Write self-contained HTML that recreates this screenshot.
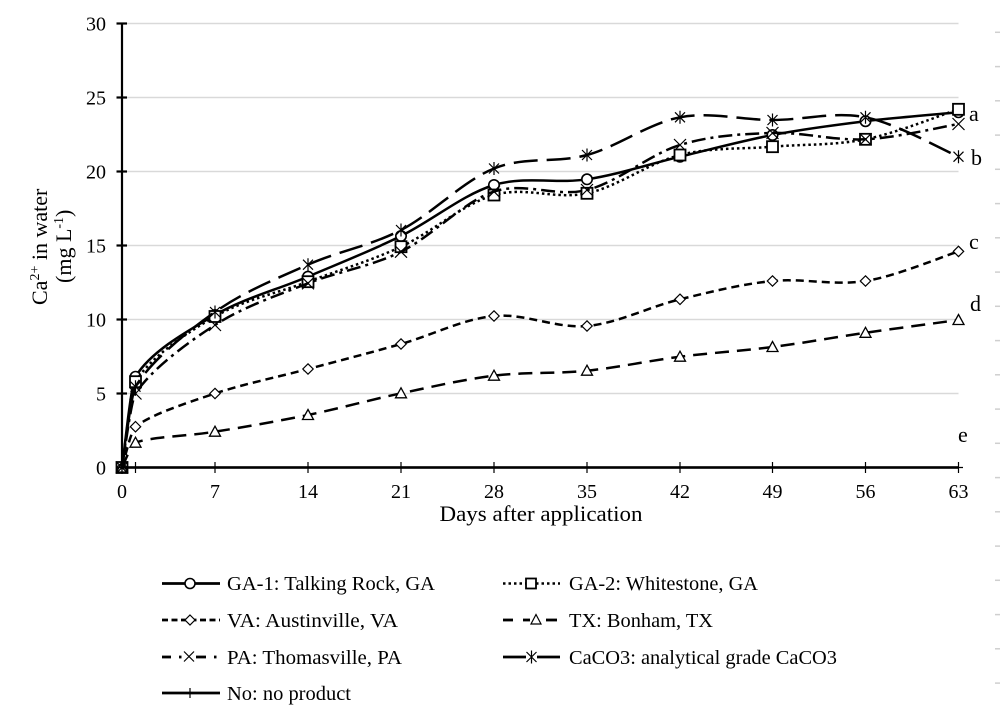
<!DOCTYPE html>
<html>
<head>
<meta charset="utf-8">
<style>
  html,body{margin:0;padding:0;background:#fff;}
  body{width:1000px;height:715px;overflow:hidden;}
  svg{display:block;}
  text{font-family:"Liberation Serif","Times New Roman",serif;fill:#000;}
</style>
</head>
<body>
<svg width="1000" height="715" viewBox="0 0 1000 715" xmlns="http://www.w3.org/2000/svg">
  <defs>
    <marker id="mc" markerUnits="userSpaceOnUse" markerWidth="20" markerHeight="20" refX="10" refY="10" overflow="visible">
      <circle cx="10" cy="10" r="5.2" fill="#fff" stroke="#000" stroke-width="1.6"/>
    </marker>
    <marker id="ms" markerUnits="userSpaceOnUse" markerWidth="20" markerHeight="20" refX="10" refY="10" overflow="visible">
      <rect x="4.5" y="4.5" width="11" height="11" fill="#fff" stroke="#000" stroke-width="1.8"/>
    </marker>
    <marker id="md" markerUnits="userSpaceOnUse" markerWidth="20" markerHeight="20" refX="10" refY="10" overflow="visible">
      <polygon points="10,4.8 15.2,10 10,15.2 4.8,10" fill="#fff" stroke="#000" stroke-width="1.2"/>
    </marker>
    <marker id="mt" markerUnits="userSpaceOnUse" markerWidth="20" markerHeight="20" refX="10" refY="10" overflow="visible">
      <polygon points="10,4.5 15.5,14.5 4.5,14.5" fill="#fff" stroke="#000" stroke-width="1.3"/>
    </marker>
    <marker id="mx" markerUnits="userSpaceOnUse" markerWidth="20" markerHeight="20" refX="10" refY="10" overflow="visible">
      <path d="M4,4 L16,16 M16,4 L4,16" stroke="#000" stroke-width="1.2" fill="none"/>
    </marker>
    <marker id="ma" markerUnits="userSpaceOnUse" markerWidth="20" markerHeight="20" refX="10" refY="10" overflow="visible">
      <path d="M10,3.5 L10,16.5 M5,5 L15,15 M15,5 L5,15" stroke="#000" stroke-width="1.2" fill="none"/>
    </marker>
    <marker id="mp" markerUnits="userSpaceOnUse" markerWidth="20" markerHeight="20" refX="10" refY="10" overflow="visible">
      <path d="M10,4.5 L10,15.5 M5.5,10 L14.5,10" stroke="#000" stroke-width="1.2" fill="none"/>
    </marker>
  </defs>

  <!-- gridlines -->
  <g stroke="#d9d9d9" stroke-width="1.5">
    <line x1="122" y1="23.5" x2="958.5" y2="23.5"/>
    <line x1="122" y1="97.5" x2="958.5" y2="97.5"/>
    <line x1="122" y1="171.5" x2="958.5" y2="171.5"/>
    <line x1="122" y1="245.5" x2="958.5" y2="245.5"/>
    <line x1="122" y1="319.5" x2="958.5" y2="319.5"/>
    <line x1="122" y1="393.5" x2="958.5" y2="393.5"/>
  </g>

  <!-- right edge marks -->
  <g stroke="#cfcfcf" stroke-width="1.5">
    <line x1="995" y1="32.3" x2="1000" y2="32.3"/>
    <line x1="995" y1="66.6" x2="1000" y2="66.6"/>
    <line x1="995" y1="100.8" x2="1000" y2="100.8"/>
    <line x1="995" y1="135.1" x2="1000" y2="135.1"/>
    <line x1="995" y1="169.3" x2="1000" y2="169.3"/>
    <line x1="995" y1="203.6" x2="1000" y2="203.6"/>
    <line x1="995" y1="237.8" x2="1000" y2="237.8"/>
    <line x1="995" y1="272.1" x2="1000" y2="272.1"/>
    <line x1="995" y1="306.3" x2="1000" y2="306.3"/>
    <line x1="995" y1="340.6" x2="1000" y2="340.6"/>
    <line x1="995" y1="374.8" x2="1000" y2="374.8"/>
    <line x1="995" y1="409.1" x2="1000" y2="409.1"/>
    <line x1="995" y1="443.3" x2="1000" y2="443.3"/>
    <line x1="995" y1="477.6" x2="1000" y2="477.6"/>
    <line x1="995" y1="511.8" x2="1000" y2="511.8"/>
    <line x1="995" y1="546.1" x2="1000" y2="546.1"/>
    <line x1="995" y1="580.3" x2="1000" y2="580.3"/>
    <line x1="995" y1="614.6" x2="1000" y2="614.6"/>
    <line x1="995" y1="648.8" x2="1000" y2="648.8"/>
    <line x1="995" y1="683.1" x2="1000" y2="683.1"/>
  </g>

  <!-- axes -->
  <g stroke="#000" stroke-width="2.2">
    <line x1="122" y1="23" x2="122" y2="468"/>
    <line x1="121" y1="467.5" x2="958.5" y2="467.5"/>
    <line x1="116.5" y1="23.5" x2="127" y2="23.5"/>
    <line x1="116.5" y1="97.5" x2="127" y2="97.5"/>
    <line x1="116.5" y1="171.5" x2="127" y2="171.5"/>
    <line x1="116.5" y1="245.5" x2="127" y2="245.5"/>
    <line x1="116.5" y1="319.5" x2="127" y2="319.5"/>
    <line x1="116.5" y1="393.5" x2="127" y2="393.5"/>
    <line x1="116.5" y1="467.5" x2="127" y2="467.5"/>
  </g>

  <!-- y tick labels -->
  <g font-size="20" text-anchor="end">
    <text x="106" y="30.5">30</text>
    <text x="106" y="104.5">25</text>
    <text x="106" y="178.5">20</text>
    <text x="106" y="252.5">15</text>
    <text x="106" y="326.5">10</text>
    <text x="106" y="400.5">5</text>
    <text x="106" y="474.5">0</text>
  </g>

  <!-- x tick labels -->
  <g font-size="20" text-anchor="middle">
    <text x="122" y="498">0</text>
    <text x="215" y="498">7</text>
    <text x="308" y="498">14</text>
    <text x="401" y="498">21</text>
    <text x="494" y="498">28</text>
    <text x="587" y="498">35</text>
    <text x="680" y="498">42</text>
    <text x="772.5" y="498">49</text>
    <text x="865.5" y="498">56</text>
    <text x="958.5" y="498">63</text>
  </g>

  <!-- axis titles -->
  <text x="541" y="521" font-size="22" text-anchor="middle" textLength="203" lengthAdjust="spacingAndGlyphs">Days after application</text>
  <text transform="translate(47,305) rotate(-90)" font-size="22">Ca<tspan font-size="14" dy="-8">2+</tspan><tspan dy="8"> in water</tspan></text>
  <text transform="translate(71,283) rotate(-90)" font-size="22">(mg L<tspan font-size="14" dy="-8">-1</tspan><tspan dy="8">)</tspan></text>

  <!-- series -->
  <g fill="none" stroke="#000" stroke-width="2.5" stroke-linejoin="round">
    <!-- GA-1 -->
    <path marker-start="url(#mc)" marker-mid="url(#mc)" marker-end="url(#mc)"
      d="M122,467.5 C124.25,452.4 131,384.1 135.5,376.7 C151,351.3 186.25,331.7 215,315 C243.75,298.3 277,289.8 308,276.6 C339,263.4 370,251.3 401,236 C432,220.7 463,194.5 494,185 C525,175.6 556,184 587,179.3 C618,174.6 649.1,164.1 680,156.7 C710.9,149.3 741.6,140.9 772.5,135 C803.4,129.1 834.5,125 865.5,121.2 C896.5,117.4 943,113.8 958.5,112.3"/>
    <!-- GA-2 -->
    <path stroke-dasharray="2.5 3" marker-start="url(#ms)" marker-mid="url(#ms)" marker-end="url(#ms)"
      d="M122,467.5 C124.25,453.2 131,389 135.5,381.7 C151,356.5 186.25,333.2 215,316.5 C243.75,299.8 277,293.3 308,281.7 C339,270.1 370,261.2 401,246.7 C432,232.3 463,203.9 494,195 C525,186.1 556,200 587,193.3 C618,186.6 649.1,162.8 680,155 C710.9,147.2 741.6,149.3 772.5,146.7 C803.4,144.1 834.5,145.5 865.5,139.3 C896.5,133.1 943,114.3 958.5,109.3"/>
    <!-- VA -->
    <path stroke-dasharray="8 5" marker-start="url(#md)" marker-mid="url(#md)" marker-end="url(#md)"
      d="M122,467.5 C124.25,460.7 131,430.3 135.5,426.7 C151,414.4 186.25,403.1 215,393.5 C243.75,383.9 277,377.3 308,369 C339,360.8 370,352.8 401,344 C432,335.2 463,319 494,316 C525,313 556,328.8 587,326 C618,323.2 649.1,306.8 680,299.3 C710.9,291.8 741.6,284.1 772.5,281 C803.4,278 834.5,285.9 865.5,281 C896.5,276.1 943,256.3 958.5,251.4"/>
    <!-- TX -->
    <path stroke-dasharray="14 8" marker-start="url(#mt)" marker-mid="url(#mt)" marker-end="url(#mt)"
      d="M122,467.5 C124.25,463.4 131,444.4 135.5,442.7 C151,436.7 186.25,436.3 215,431.7 C243.75,427.1 277,421.4 308,415 C339,408.6 370,399.9 401,393.3 C432,386.8 463,379.5 494,375.7 C525,371.9 556,373.9 587,370.7 C618,367.5 649.1,360.7 680,356.7 C710.9,352.8 741.6,351 772.5,347 C803.4,343 834.5,337.3 865.5,332.8 C896.5,328.3 943,322.1 958.5,320"/>
    <!-- PA -->
    <path stroke-dasharray="14 5 3 5" marker-start="url(#mx)" marker-mid="url(#mx)" marker-end="url(#mx)"
      d="M122,467.5 C124.25,455.2 131,400.4 135.5,393.5 C151,369.8 186.25,343.4 215,325 C243.75,306.6 277,295.5 308,283.3 C339,271.1 370,267 401,251.7 C432,236.4 463,201.9 494,191.6 C525,181.3 556,197.8 587,190 C618,182.2 649.1,154.5 680,145 C710.9,135.5 741.6,134 772.5,133 C803.4,132.1 834.5,140.8 865.5,139.3 C896.5,137.8 943,126.6 958.5,124"/>
    <!-- CaCO3 -->
    <path stroke-dasharray="24 9" marker-start="url(#ma)" marker-mid="url(#ma)" marker-end="url(#ma)"
      d="M122,467.5 C124.25,454 131,394.2 135.5,386.7 C151,360.8 186.25,332.3 215,312 C243.75,291.7 277,278.4 308,264.7 C339,251 370,246 401,230 C432,214 463,181 494,168.5 C525,156 556,163.5 587,155 C618,146.5 649.1,123.1 680,117.3 C710.9,111.5 741.6,120 772.5,120 C803.4,120 834.5,111.2 865.5,117.3 C896.5,123.4 943,150.1 958.5,156.7"/>
    <!-- No -->
    <polyline marker-start="url(#mp)" marker-mid="url(#mp)" marker-end="url(#mp)"
      points="122,467.5 135.5,467.5 215,467.5 308,467.5 401,467.5 494,467.5 587,467.5 680,467.5 772.5,467.5 865.5,467.5 958.5,467.5"/>
  </g>

  <!-- significance letters -->
  <g font-size="22">
    <text x="969" y="121">a</text>
    <text x="971" y="165">b</text>
    <text x="969" y="249">c</text>
    <text x="970" y="311">d</text>
    <text x="958" y="442">e</text>
  </g>

  <!-- legend -->
  <g fill="none" stroke="#000" stroke-width="2.8">
    <line x1="162" y1="583.5" x2="220" y2="583.5"/>
    <circle cx="190" cy="583.5" r="5" fill="#fff" stroke-width="1.6"/>
    <line x1="503" y1="583.5" x2="560" y2="583.5" stroke-dasharray="2.5 3" stroke-width="2.5"/>
    <rect x="526" y="578.5" width="10" height="10" fill="#fff" stroke-width="1.8"/>
    <line x1="162" y1="620" x2="220" y2="620" stroke-dasharray="6 3.5"/>
    <polygon points="190,615 195,620 190,625 185,620" fill="#fff" stroke-width="1.2"/>
    <line x1="503" y1="620" x2="513" y2="620"/>
    <line x1="523" y1="620" x2="530" y2="620"/>
    <line x1="546" y1="620" x2="557" y2="620"/>
    <polygon points="536,614.5 541,624 531,624" fill="#fff" stroke-width="1.2"/>
    <line x1="162" y1="657" x2="171" y2="657"/>
    <line x1="179" y1="657" x2="181.5" y2="657"/>
    <path d="M184,651.5 L194,661.5 M194,651.5 L184,661.5" stroke-width="1.2"/>
    <line x1="196" y1="657" x2="206" y2="657"/>
    <line x1="214" y1="657" x2="216.5" y2="657"/>
    <line x1="503" y1="657" x2="526" y2="657"/>
    <line x1="537" y1="657" x2="560" y2="657"/>
    <path d="M531.5,650.5 L531.5,663.5 M526.5,652 L536.5,662 M536.5,652 L526.5,662" stroke-width="1.2"/>
    <line x1="162" y1="693" x2="220" y2="693"/>
    <path d="M190,688 L190,698" stroke-width="1.2"/>
  </g>
  <g font-size="20">
    <text x="227" y="590" textLength="208" lengthAdjust="spacingAndGlyphs">GA-1: Talking Rock, GA</text>
    <text x="569" y="590" textLength="189" lengthAdjust="spacingAndGlyphs">GA-2: Whitestone, GA</text>
    <text x="227" y="627" textLength="171" lengthAdjust="spacingAndGlyphs">VA: Austinville, VA</text>
    <text x="569" y="627" textLength="144" lengthAdjust="spacingAndGlyphs">TX: Bonham, TX</text>
    <text x="227" y="664" textLength="175" lengthAdjust="spacingAndGlyphs">PA: Thomasville, PA</text>
    <text x="569" y="664" textLength="268" lengthAdjust="spacingAndGlyphs">CaCO3: analytical grade CaCO3</text>
    <text x="227" y="700" textLength="124" lengthAdjust="spacingAndGlyphs">No: no product</text>
  </g>
</svg>
</body>
</html>
